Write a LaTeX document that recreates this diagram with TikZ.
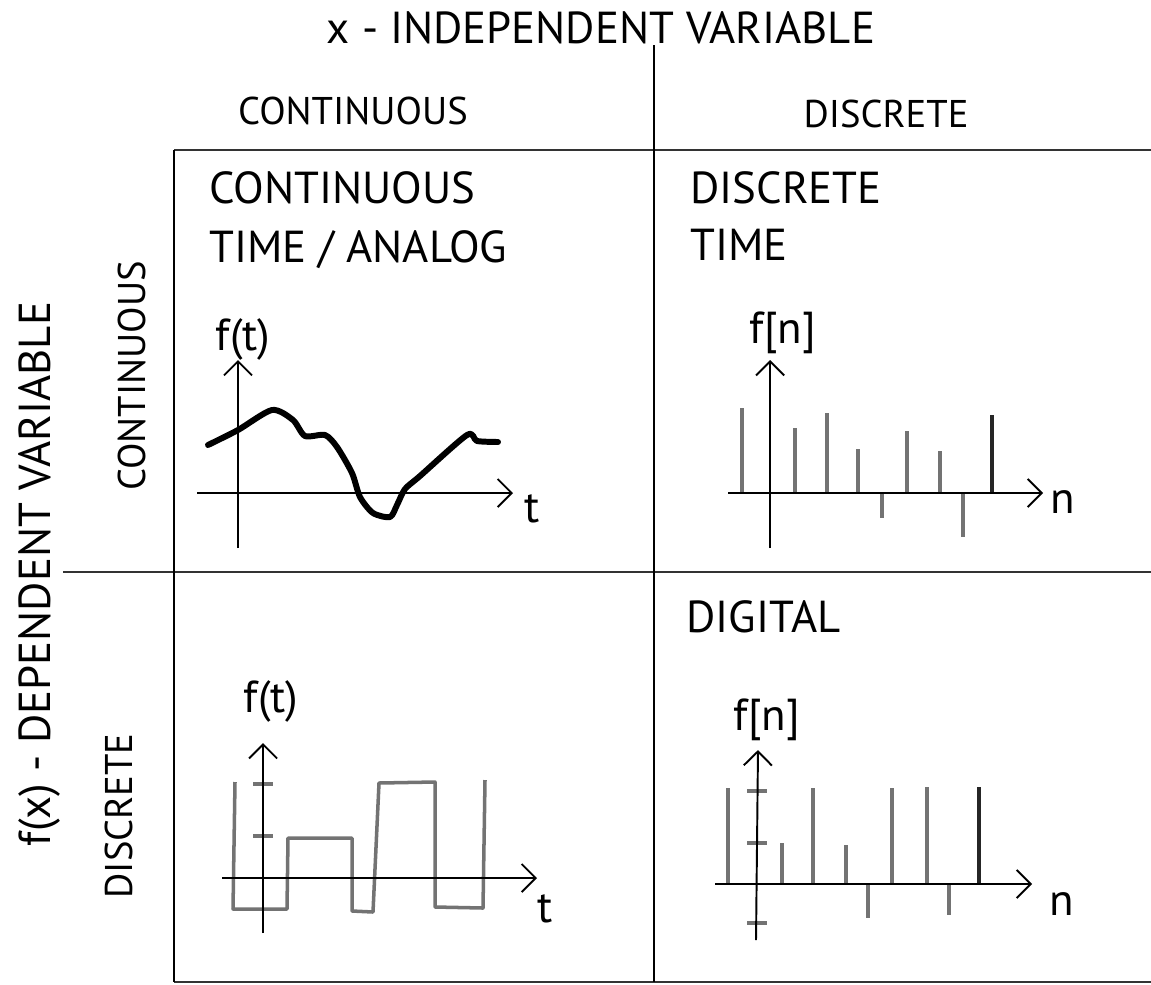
\documentclass[tikz,border=0pt]{standalone}
\usepackage{fontspec}
\setmainfont{PT Sans}
\usetikzlibrary{positioning}
\usetikzlibrary{arrows.meta}

\tikzset{
  frame/.style={line width=1.2pt},
  rule/.style={line width=1.6pt, black!80},
  axis/.style={line width=1.1pt, -{Straight Barb[length=8pt,width=16pt]}},
  stem/.style={line width=2pt, black!55},
  wave/.style={line width=2pt, black!55, line join=round},
  lbl/.style={font=\fontsize{25.5}{30}\selectfont, inner sep=0pt},
  hdr/.style={font=\fontsize{22}{26}\selectfont, inner sep=0pt}
}

\begin{document}
\begin{tikzpicture}[x=0.02cm, y=-0.02cm]
      \useasboundingbox (0,0) rectangle (1151,984);
      % grid
      \draw[rule] (174,150) -- (1151,150);
      \draw[rule] (63,572) -- (1151,572);
      \draw[rule] (174,982) -- (1151,982);
      \draw[frame] (174,150) -- (174,982);
      \draw[frame] (654,45) -- (654,982);
      % headings
      \node[lbl, anchor=base] (xvar) at (601,43) {x - INDEPENDENT VARIABLE};
      \node[hdr, anchor=base] (ccol) at (353,124) {CONTINUOUS};
      \node[hdr, anchor=base] (dcol) at (886,127) {DISCRETE};
      \node[lbl, anchor=base, rotate=90] (fvar) at (50,574) {f(x) - DEPENDENT VARIABLE};
      \node[hdr, anchor=base, rotate=90] (crow) at (145,376) {CONTINUOUS};
      \node[hdr, anchor=base, rotate=90] (drow) at (132,816) {DISCRETE};
      % cell titles
      \node[lbl, anchor=base west] (ana1) at (209,203) {CONTINUOUS};
      \node[lbl, anchor=base west] (ana2) at (209,262) {TIME / ANALOG};
      \node[lbl, anchor=base west] (dti1) at (690,203) {DISCRETE};
      \node[lbl, anchor=base west] (dti2) at (690,260) {TIME};
      \node[lbl, anchor=base west] (dig) at (686,632) {DIGITAL};

      % continuous time
      \coordinate (ox1) at (197,493);
      \coordinate (ex1) at (513,493);
      \coordinate (oy1) at (238,548);
      \coordinate (ey1) at (238,360);
      \draw[line width=3.4pt, line cap=round, line join=round]
        plot[smooth, tension=0.45] coordinates {(208,445) (238,430) (272,410) (293,420)
        (305,436) (325,435) (337,447) (352,473) (360,497) (373,513) (390,517)
        (397,505) (405,489) (420,476) (467,435) (477,441) (498,442)};
      \draw[axis] (ox1) -- (ex1);
      \draw[axis] (oy1) -- (ey1);
      \node[lbl, anchor=base] (ft1) at (243,350) {f(t)};
      \node[lbl, anchor=base] (t1) at (532,522) {t};

      % discrete time
      \coordinate (ox2) at (728,493);
      \coordinate (ex2) at (1043,493);
      \coordinate (oy2) at (770,548);
      \coordinate (ey2) at (770,360);
      \foreach \sx/\sy in {742/408, 795/428, 827/413, 858/449, 882/518,
                           907/431, 940/451, 963/537}
        \draw[stem] (\sx,493) -- (\sx,\sy);
      \draw[stem, black!85] (992,493) -- (992,415);
      \draw[axis] (ox2) -- (ex2);
      \draw[axis] (oy2) -- (ey2);
      \node[lbl, anchor=base] (fn2) at (783,343) {f[n]};
      \node[lbl, anchor=base] (n2) at (1063,513) {n};

      % quantised
      \coordinate (ox3) at (222,878);
      \coordinate (ex3) at (537,878);
      \coordinate (oy3) at (263,933);
      \coordinate (ey3) at (263,743);
      \draw[wave] (235,782) -- (233,909) -- (287,909) -- (288,838) -- (352,838)
        -- (352,911) -- (373,912) -- (379,783) -- (435,782) -- (435,907)
        -- (483,908) -- (485,780);
      \foreach \ty in {784, 836}
        \draw[stem] (253,\ty) -- (273,\ty);
      \draw[axis] (ox3) -- (ex3);
      \draw[axis] (oy3) -- (ey3);
      \node[lbl, anchor=base] (ft3) at (271,712) {f(t)};
      \node[lbl, anchor=base] (t3) at (545,922) {t};

      % digital
      \coordinate (ox4) at (715,884);
      \coordinate (ex4) at (1032,884);
      \coordinate (oy4) at (756,940);
      \coordinate (ey4) at (758,750);
      \foreach \sx/\sy in {728/788, 782/843, 813/788, 846/845, 868/918,
                           892/788, 927/787, 949/915}
        \draw[stem] (\sx,884) -- (\sx,\sy);
      \draw[stem, black!85] (979,884) -- (979,787);
      \foreach \ty in {791, 843, 923}
        \draw[stem] (747,\ty) -- (767,\ty);
      \draw[axis] (ox4) -- (ex4);
      \draw[axis] (oy4) -- (ey4);
      \node[lbl, anchor=base] (fn4) at (767,730) {f[n]};
      \node[lbl, anchor=base] (n4) at (1062,915) {n};
\end{tikzpicture}
\end{document}
